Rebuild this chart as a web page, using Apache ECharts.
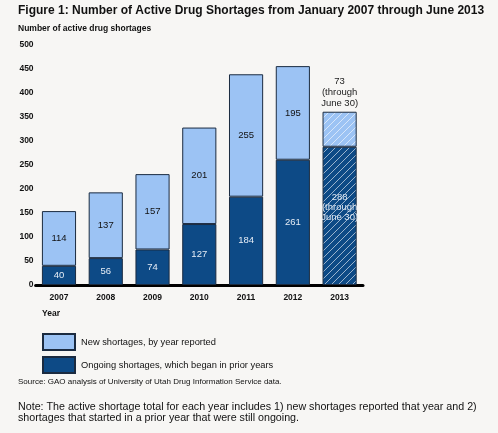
<!DOCTYPE html>
<html>
<head>
<meta charset="utf-8">
<script src="https://cdn.jsdelivr.net/npm/echarts@6/dist/echarts.min.js"></script>
<style>
  html, body { margin: 0; padding: 0; background: #f7f6f4; }
  #chart { width: 498px; height: 433px; }
</style>
</head>
<body>
<div id="chart"></div>
<script>
var years = ['2007', '2008', '2009', '2010', '2011', '2012', '2013'];
var ongoing = [40, 56, 74, 127, 184, 261, 288];
var newShortages = [114, 137, 157, 201, 255, 195, 73];
var yTicks = [0, 50, 100, 150, 200, 250, 300, 350, 400, 450, 500];
var partialYear = '2013';
var partialNote = '(through\nJune 30)';

var LIGHT = '#9cc3f4';
var DARK = '#0d4a86';
var EDGE = '#1b2b40';
var FONT = '"Liberation Sans", Arial, sans-serif';

// diagonal white hatch used for the part-year bar
function hatch(base) {
    var s = 7;
    var c = document.createElement('canvas');
    c.width = s;
    c.height = s;
    var ctx = c.getContext('2d');
    ctx.fillStyle = base;
    ctx.fillRect(0, 0, s, s);
    ctx.strokeStyle = 'rgba(255,255,255,0.65)';
    ctx.lineWidth = 0.9;
    ctx.beginPath();
    ctx.moveTo(-1, s + 1); ctx.lineTo(s + 1, -1);
    ctx.moveTo(-1, 1); ctx.lineTo(1, -1);
    ctx.moveTo(s - 1, s + 1); ctx.lineTo(s + 1, s - 1);
    ctx.stroke();
    return {image: c, repeat: 'repeat'};
}

var ongoingData = ongoing.map(function (v, i) {
    if (years[i] !== partialYear) return v;
    return {
        value: v,
        itemStyle: {color: hatch(DARK)},
        label: {formatter: v + '\n' + partialNote, offset: [0, -9], lineHeight: 10,
            color: '#dfe8f3', textBorderWidth: 0, textShadowBlur: 0}
    };
});

var newData = newShortages.map(function (v, i) {
    if (years[i] !== partialYear) return v;
    return {
        value: v,
        itemStyle: {color: hatch(LIGHT)},
        label: {position: 'top', distance: 3, formatter: v + '\n' + partialNote, lineHeight: 11, color: '#222'}
    };
});

var chart = echarts.init(document.getElementById('chart'));
chart.setOption({
    backgroundColor: '#f7f6f4',
    animation: false,
    textStyle: {fontFamily: FONT},
    title: [
        {
            text: 'Figure 1: Number of Active Drug Shortages from January 2007 through June 2013',
            left: 13, top: 0,
            textStyle: {fontFamily: FONT, fontSize: 12, fontWeight: 'bold', color: '#111'}
        },
        {
            text: 'Number of active drug shortages',
            left: 13, top: 19,
            textStyle: {fontFamily: FONT, fontSize: 8.5, fontWeight: 'bold', color: '#111'}
        },
        {
            text: 'Year',
            left: 37, top: 304,
            textStyle: {fontFamily: FONT, fontSize: 8.5, fontWeight: 'bold', color: '#111'}
        },
        {
            text: 'Source: GAO analysis of University of Utah Drug Information Service data.',
            left: 13, top: 373,
            textStyle: {fontFamily: FONT, fontSize: 8, fontWeight: 'normal', color: '#111'}
        },
        {
            text: 'Note: The active shortage total for each year includes 1) new shortages reported that year and 2)\nshortages that started in a prior year that were still ongoing.',
            left: 13, top: 396,
            textStyle: {fontFamily: FONT, fontSize: 10.7, fontWeight: 'normal', color: '#111', lineHeight: 11.5}
        }
    ],
    legend: {
        orient: 'vertical',
        left: 37, top: 328,
        itemWidth: 32, itemHeight: 16, itemGap: 5,
        icon: 'rect',
        data: ['New shortages, by year reported', 'Ongoing shortages, which began in prior years'],
        textStyle: {fontFamily: FONT, fontSize: 9.3, color: '#111', padding: [0, 0, 0, 1]}
    },
    grid: {left: 35.6, right: 135, top: 45, bottom: 148},
    xAxis: {
        type: 'category',
        data: years,
        axisLine: {lineStyle: {color: '#000', width: 3}},
        axisTick: {show: false},
        axisLabel: {fontFamily: FONT, fontSize: 8.5, fontWeight: 'bold', color: '#111', margin: 8}
    },
    yAxis: {
        type: 'value',
        min: yTicks[0],
        max: yTicks[yTicks.length - 1],
        interval: yTicks[1] - yTicks[0],
        axisLine: {show: false},
        axisTick: {show: false},
        splitLine: {show: false},
        axisLabel: {fontFamily: FONT, fontSize: 8.5, fontWeight: 'bold', color: '#111', margin: 2}
    },
    series: [
        {
            name: 'Ongoing shortages, which began in prior years',
            type: 'bar',
            stack: 'total',
            barCategoryGap: '27%',
            data: ongoingData,
            itemStyle: {color: DARK, borderColor: EDGE, borderWidth: 1},
            label: {show: true, position: 'inside', fontFamily: FONT, fontSize: 9.5, color: '#e6edf6'}
        },
        {
            name: 'New shortages, by year reported',
            type: 'bar',
            stack: 'total',
            data: newData,
            itemStyle: {color: LIGHT, borderColor: EDGE, borderWidth: 1},
            label: {show: true, position: 'inside', fontFamily: FONT, fontSize: 9.5, color: '#111'}
        }
    ]
});
</script>
</body>
</html>
